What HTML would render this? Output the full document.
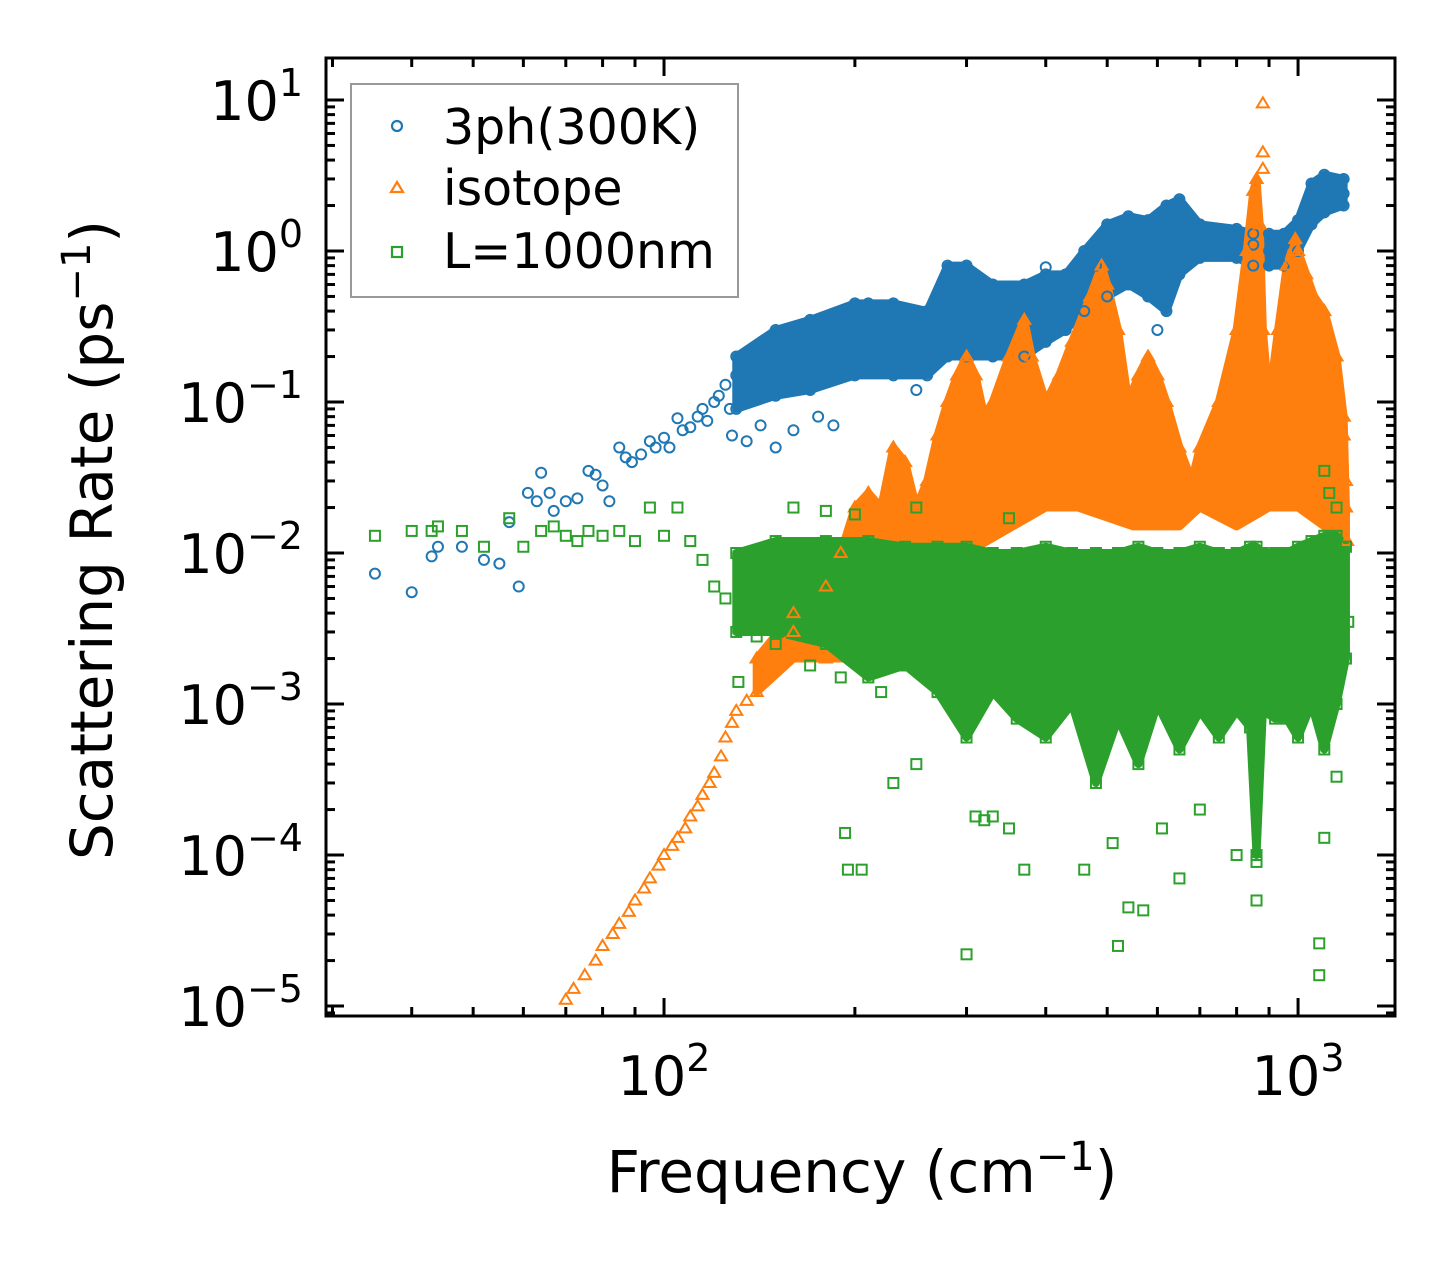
<!DOCTYPE html>
<html><head><meta charset="utf-8"><style>
html,body{margin:0;padding:0;background:#fff;}
svg{display:block;font-family:"DejaVu Sans","Liberation Sans",sans-serif;}
</style></head><body>
<svg id="chart" width="1455" height="1265" viewBox="0 0 1455 1265">
<g id="bands"></g>
<g id="marks"></g>
<g id="axes"></g>
<g>
  <rect x="351" y="84" width="387" height="213" fill="#fff" fill-opacity="0.8" stroke="#999" stroke-width="2"/>
  <circle cx="397" cy="126" r="5" fill="none" stroke="#1f77b4" stroke-width="2.2"/>
  <text x="443" y="144" font-size="49">3ph(300K)</text>
  <path d="M397,182 L403,192 L391,192 Z" fill="none" stroke="#ff7f0e" stroke-width="2.2"/>
  <text x="443" y="205" font-size="49">isotope</text>
  <rect x="392" y="247" width="10" height="10" fill="none" stroke="#2ca02c" stroke-width="2.2"/>
  <text x="443" y="268" font-size="49">L=1000nm</text>
</g>
<text x="862" y="1192" font-size="58" text-anchor="middle">Frequency (cm<tspan font-size="40" dy="-22">−1</tspan><tspan dy="22">)</tspan></text>
<text transform="translate(112,540) rotate(-90)" font-size="58" text-anchor="middle">Scattering Rate (ps<tspan font-size="40" dy="-22">−1</tspan><tspan dy="22">)</tspan></text>
</svg>
<script>
// ---- data ----
const blueFreq = [35,40,43,44,48,52,55,57,59,61,63,64,66,67,70,73,76,78,80,82,85,87,89,92,95,97,100,102,105,107,110,113,115,117,120,122,125,127,130,133,135,140,145,150,155,160,165,170,175,180,190,200,210,220,230,240,250,260,270,280,290,300,310,320,340,360,380,400,420,450,480,500,520,550,580,600,620,640,660,680,700,750,800,850,900,950,1000,1050,1100,1150,1180,300,400,600,150,250,128,135,142,160,175,185];
const blueRate = [0.0073,0.0055,0.0095,0.011,0.011,0.009,0.0085,0.016,0.006,0.025,0.022,0.034,0.025,0.019,0.022,0.023,0.035,0.033,0.028,0.022,0.05,0.043,0.04,0.045,0.055,0.05,0.058,0.05,0.078,0.065,0.068,0.08,0.09,0.075,0.1,0.11,0.13,0.09,0.15,0.12,0.18,0.2,0.17,0.22,0.2,0.25,0.22,0.3,0.25,0.28,0.35,0.4,0.45,0.4,0.42,0.38,0.3,0.4,0.5,0.7,0.75,0.5,0.6,0.5,0.55,0.45,0.4,0.5,0.45,0.6,0.8,1.0,1.2,1.3,1.2,1.5,1.8,2.0,1.3,1.2,1.4,1.1,1.2,1.1,1.0,1.1,1.5,2.5,3.0,2.8,2.4,0.8,0.78,0.3,0.05,0.12,0.06,0.055,0.07,0.065,0.08,0.07];
const blueBandFreq = [130,150,170,200,230,260,280,300,330,370,400,430,460,500,540,580,620,650,700,800,850,900,950,1000,1050,1100,1180];
const blueBandLow  = [0.09,0.11,0.12,0.15,0.15,0.15,0.2,0.2,0.2,0.2,0.25,0.3,0.4,0.5,0.6,0.5,0.4,0.7,0.9,0.9,0.8,0.8,0.8,1.0,1.5,1.8,2.0];
const blueBandHigh = [0.2,0.3,0.35,0.45,0.45,0.4,0.8,0.8,0.6,0.6,0.7,0.7,1.0,1.5,1.7,1.6,2.0,2.2,1.5,1.4,1.3,1.3,1.3,1.6,2.8,3.2,3.0];

const orangeFreq = [70,72,75,78,80,83,85,88,90,93,95,98,100,103,105,108,110,113,115,118,120,123,125,128,130,135,140,145,150,155,160,170,180,880,880,880,1180,1190,1195,1180,560,700,900,1050];
const orangeRate = [1.1e-5,1.3e-5,1.6e-5,2.0e-5,2.5e-5,3.0e-5,3.5e-5,4.2e-5,5e-5,6e-5,7e-5,8.5e-5,1e-4,1.15e-4,1.3e-4,1.5e-4,1.8e-4,2.1e-4,2.5e-4,3e-4,3.5e-4,4.5e-4,6e-4,7.5e-4,9e-4,1.05e-3,1.2e-3,1.6e-3,2e-3,2.5e-3,3e-3,2.2e-3,2e-3,9.5,4.5,3.5,0.06,0.03,0.012,0.08,0.05,0.04,0.06,0.02];
const orangeBandFreq = [140,160,180,190,200,210,220,230,240,250,260,270,280,290,300,310,320,330,350,370,380,400,420,440,470,490,500,520,540,560,580,600,620,650,680,700,750,800,830,850,860,870,880,900,930,960,990,1000,1030,1060,1100,1150,1180,1190];
const orangeBandHigh = [0.002,0.004,0.006,0.01,0.02,0.025,0.02,0.05,0.04,0.02,0.03,0.06,0.1,0.15,0.2,0.15,0.08,0.1,0.2,0.35,0.2,0.1,0.15,0.25,0.5,0.8,0.6,0.3,0.1,0.15,0.2,0.15,0.1,0.05,0.03,0.05,0.1,0.3,1.0,2.5,3.0,1.5,0.3,0.1,0.3,0.8,1.2,1.0,0.7,0.5,0.4,0.2,0.08,0.02];
const orangeLowFreq = [140,160,200,220,260,300,400,450,550,650,700,800,900,1000,1100,1190];
const orangeLowRate = [0.0012,0.002,0.002,0.005,0.008,0.01,0.02,0.02,0.015,0.015,0.02,0.015,0.02,0.02,0.015,0.01];

const greenFreq = [35,40,43,44,48,52,57,60,64,67,70,73,76,80,85,90,95,100,105,110,115,120,125,131,195,193,205,230,250,300,310,320,330,350,370,460,510,520,540,570,610,650,700,800,860,860,1080,1080,1100,1150,1100,1150,1120,1200,160,180,200,250,350,140,150,170,190,220];
const greenRate = [0.013,0.014,0.014,0.015,0.014,0.011,0.017,0.011,0.014,0.015,0.013,0.012,0.014,0.013,0.014,0.012,0.02,0.013,0.02,0.012,0.009,0.006,0.005,0.0014,8e-5,1.4e-4,8e-5,3e-4,4e-4,2.2e-5,1.8e-4,1.7e-4,1.8e-4,1.5e-4,8e-5,8e-5,1.2e-4,2.5e-5,4.5e-5,4.3e-5,1.5e-4,7e-5,2e-4,1e-4,5e-5,9e-5,2.6e-5,1.6e-5,1.3e-4,3.3e-4,0.035,0.02,0.025,0.0035,0.02,0.019,0.018,0.02,0.017,0.0028,0.0025,0.0018,0.0015,0.0012];
const greenBandFreq = [130,150,180,210,240,270,300,330,360,400,440,480,520,560,600,650,700,750,800,840,860,880,920,960,1000,1050,1100,1150,1190];
const greenBandHigh = [0.01,0.012,0.012,0.012,0.011,0.011,0.011,0.01,0.01,0.011,0.01,0.01,0.01,0.011,0.01,0.01,0.011,0.01,0.01,0.011,0.011,0.01,0.01,0.01,0.011,0.012,0.013,0.013,0.011];
const greenBandLow  = [0.003,0.003,0.0025,0.0015,0.0018,0.0012,0.0006,0.0012,0.0008,0.0006,0.001,0.0003,0.0008,0.0004,0.001,0.0005,0.0009,0.0006,0.0009,0.0007,0.0001,0.0009,0.0008,0.0008,0.0006,0.001,0.0005,0.001,0.002];

const xTickVals = [100,1000];
const xTickExp = ['2','3'];
const yTickVals = [1e-5,1e-4,1e-3,1e-2,1e-1,1,10];
const yTickExp = ['−5','−4','−3','−2','−1','0','1'];

// ---- scales ----
const L=326,R=1395,T=58,B=1016;
const xMin=Math.log10(29.3), xMax=Math.log10(1422);
const yMin=-5.066, yMax=1.278;
const X=v=>L+(Math.log10(v)-xMin)/(xMax-xMin)*(R-L);
const Y=v=>B-(Math.log10(v)-yMin)/(yMax-yMin)*(B-T);
const NS='http://www.w3.org/2000/svg';
function mk(tag,attrs,parent){const e=document.createElementNS(NS,tag);for(const k in attrs)e.setAttribute(k,attrs[k]);parent.appendChild(e);return e;}
const bands=document.getElementById('bands'), marks=document.getElementById('marks'), axes=document.getElementById('axes');
const clip=mk('clipPath',{id:'pc'},document.getElementById('chart'));
mk('rect',{x:L,y:T,width:R-L,height:B-T},clip);
bands.setAttribute('clip-path','url(#pc)');marks.setAttribute('clip-path','url(#pc)');

function band(fx,lo,fx2,hi,color,name){
  let pts=[];
  for(let i=0;i<fx.length;i++)pts.push(X(fx[i])+','+Y(hi[i]));
  for(let i=fx2.length-1;i>=0;i--)pts.push(X(fx2[i])+','+Y(lo[i]));
  const p=mk('polygon',{points:pts.join(' '),fill:color,stroke:color,'stroke-width':8,'stroke-linejoin':'round'},bands);
  
  
}
function marker(shape,x,y,color){
  let e;
  if(shape==='c') e=mk('circle',{cx:X(x),cy:Y(y),r:5,fill:'none',stroke:color,'stroke-width':2},marks);
  else if(shape==='t'){const cx=X(x),cy=Y(y);e=mk('path',{d:`M${cx},${cy-6} L${cx+6},${cy+4} L${cx-6},${cy+4} Z`,fill:'none',stroke:color,'stroke-width':2},marks);}
  else e=mk('rect',{x:X(x)-5,y:Y(y)-5,width:10,height:10,fill:'none',stroke:color,'stroke-width':2},marks);
  
  
}
const C1='#1f77b4',C2='#ff7f0e',C3='#2ca02c';
band(blueBandFreq,blueBandLow,blueBandFreq,blueBandHigh,C1,'3ph-dense-band');
blueFreq.forEach((f,i)=>marker('c',f,blueRate[i],C1));
blueBandFreq.forEach((f,i)=>{marker('c',f,blueBandHigh[i],C1);marker('c',f,blueBandLow[i],C1);});
band(orangeBandFreq,orangeLowRate,orangeLowFreq,orangeBandHigh,C2,'isotope-dense-band');
orangeFreq.forEach((f,i)=>marker('t',f,orangeRate[i],C2));
orangeBandFreq.forEach((f,i)=>marker('t',f,orangeBandHigh[i],C2));
band(greenBandFreq,greenBandLow,greenBandFreq,greenBandHigh,C3,'boundary-dense-band');
greenFreq.forEach((f,i)=>marker('s',f,greenRate[i],C3));
greenBandFreq.forEach((f,i)=>{marker('s',f,greenBandHigh[i],C3);marker('s',f,greenBandLow[i],C3);});

function line(x1,y1,x2,y2,w,name){const e=mk('line',{x1,y1,x2,y2,stroke:'#000','stroke-width':w},axes);return e;}
const fr=mk('rect',{x:L,y:T,width:R-L,height:B-T,fill:'none',stroke:'#000','stroke-width':3},axes);


for(let d=10;d<=1000;d*=10)for(let m=1;m<10;m++){const v=d*m;const lv=Math.log10(v);if(lv<xMin||lv>xMax)continue;const x=X(v);const len=m===1?18:9;line(x,B,x,B-len,3,'x-tick');line(x,T,x,T+len,3,'x-tick-top');}
for(let e=-6;e<=1;e++)for(let m=1;m<10;m++){const v=m*Math.pow(10,e);const lv=Math.log10(v);if(lv<yMin||lv>yMax)continue;const y=Y(v);const len=m===1?18:9;line(L,y,L+len,y,3,'y-tick');line(R,y,R-len,y,3,'y-tick-right');}
xTickVals.forEach((v,i)=>{const t=mk('text',{x:X(v),y:1095,'font-size':54,'text-anchor':'middle'},axes);t.innerHTML='10<tspan font-size="38" dy="-24">'+xTickExp[i]+'</tspan>';});
yTickVals.forEach((v,i)=>{const t=mk('text',{x:303,y:Y(v)+20,'font-size':54,'text-anchor':'end'},axes);t.innerHTML='10<tspan font-size="38" dy="-24">'+yTickExp[i]+'</tspan>';});
</script>
</body></html>
